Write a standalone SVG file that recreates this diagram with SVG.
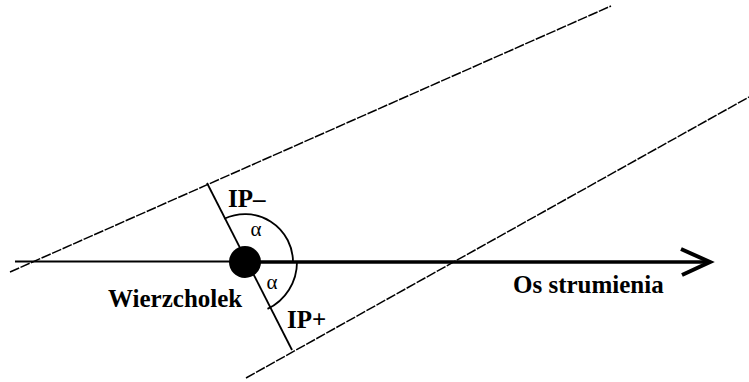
<svg xmlns="http://www.w3.org/2000/svg" width="749" height="382" viewBox="0 0 749 382">
<style>
.dash{stroke:#000;stroke-width:1.5;stroke-dasharray:10,1.5;fill:none}
.thin{stroke:#000;stroke-width:1.8;fill:none}
.lbl{font-family:"Liberation Serif","Times New Roman",serif;font-weight:bold;font-size:25px;fill:#000}
.alpha{font-family:"Liberation Serif","Times New Roman",serif;font-size:21px;fill:#000;text-anchor:middle}
</style>
<rect width="749" height="382" fill="#fff"/>
<g id="connectors">
<line class="dash" x1="10" y1="272" x2="611" y2="6"/>
<line class="dash" x1="246" y1="378" x2="749" y2="97"/>
<line class="thin" x1="15" y1="261.5" x2="245" y2="261.5"/>
<line x1="245" y1="262" x2="709" y2="262" stroke="#000" stroke-width="3.5"/>
<polyline points="681,249 710,262 682,275" fill="none" stroke="#000" stroke-width="4"/>
<line class="thin" x1="207" y1="183" x2="292" y2="350"/>
<path class="thin" d="M224.2,218.8 A48,48 0 0 1 293,262" stroke-width="1.2"/>
<path class="thin" d="M297,262 A52,52 0 0 1 267.5,308.9" stroke-width="1.2"/>
</g>
<g id="vertex">
<circle cx="245" cy="262" r="16" fill="#000"/>
<text class="lbl" x="108" y="307">Wierzcholek</text>
</g>
<g id="ip-minus"><text class="lbl" x="228" y="207">IP–</text></g>
<g id="ip-plus"><text class="lbl" x="287" y="328">IP+</text></g>
<g id="alpha1"><text class="alpha" x="256" y="236">α</text></g>
<g id="alpha2"><text class="alpha" x="272" y="289">α</text></g>
<g id="axis-label"><text class="lbl" x="513" y="293">Os strumienia</text></g>
</svg>
